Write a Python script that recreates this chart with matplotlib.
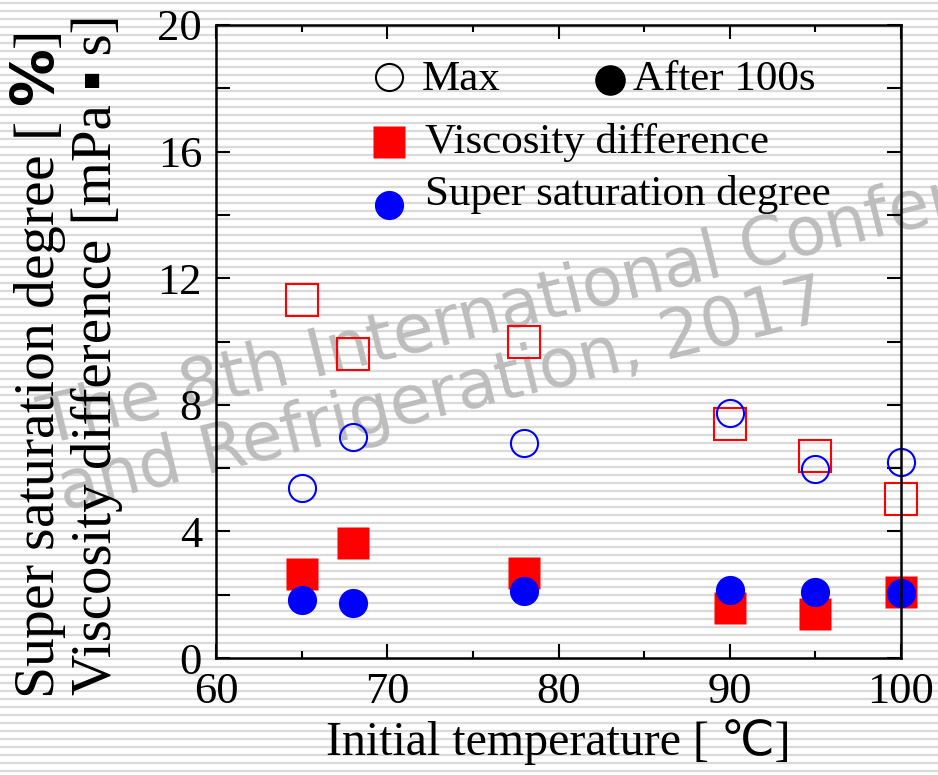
import matplotlib.pyplot as plt
import numpy as np

plt.rcParams['font.family'] = ['Liberation Serif', 'DejaVu Sans']
plt.rcParams['mathtext.fontset'] = 'custom'
plt.rcParams['mathtext.bf'] = 'DejaVu Sans:bold'
plt.rcParams['mathtext.rm'] = 'Liberation Serif'

# initial temperature [C]
temp = [65, 68, 78, 90, 95, 100]

# maximum values
visc_max = [11.3, 9.6, 9.98, 7.39, 6.37, 5.03]
super_max = [5.38, 6.97, 6.78, 7.75, 5.96, 6.2]

# values after 100 s
visc_100s = [2.65, 3.63, 2.7, 1.58, 1.4, 2.08]
super_100s = [1.83, 1.74, 2.12, 2.15, 2.09, 2.06]

W, H = 938, 775
fig = plt.figure(figsize=(W / 100, H / 100), dpi=100)

# striped background over the whole sheet, watermark sits on it
bg = fig.add_axes([0, 0, 1, 1], zorder=-10)
bg.set_xlim(0, W)
bg.set_ylim(H, 0)
for yy in np.arange(3.3, H, 8):
    bg.axhline(yy, color='#dadada', lw=1.6)
bg.axis('off')

wm = dict(fontsize=48, color='#bdbdbd', rotation=14,
          rotation_mode='anchor', ha='left', va='baseline',
          family='DejaVu Sans')
bg.text(45, 445, 'The 8th International Conference', **wm)
bg.text(64, 510, 'and Refrigeration, 2017', **wm)

ax = fig.add_axes([216 / W, 1 - 658 / H, 685 / W, 633 / H])
ax.patch.set_alpha(0)

ms_c = 21
ms_s = 22.5
ax.plot(temp, visc_max, 's', ms=ms_s, mfc='none', mec='red', mew=1.5,
        zorder=3, clip_on=False)
ax.plot(temp, super_max, 'o', ms=ms_c - 1.5, mfc='none', mec='blue', mew=1.5,
        zorder=3, clip_on=False)
ax.plot(temp, visc_100s, 's', ms=ms_s, color='red', mec='none',
        zorder=3, clip_on=False)
ax.plot(temp, super_100s, 'o', ms=ms_c, color='blue', mec='none',
        zorder=4, clip_on=False)

ax.set_xlim(60, 100)
ax.set_ylim(0, 20)
ax.set_xticks([60, 70, 80, 90, 100])
ax.set_xticks([65, 75, 85, 95], minor=True)
ax.set_yticks([0, 4, 8, 12, 16, 20])
ax.set_yticks([2, 6, 10, 14, 18], minor=True)
ax.tick_params(which='both', direction='in', top=True, right=True,
               width=1.5, labelsize=32, pad=10)
ax.tick_params(axis='x', which='major', length=10)
ax.tick_params(axis='x', which='minor', length=5)
ax.tick_params(axis='y', which='both', length=10)
for s in ax.spines.values():
    s.set_linewidth(1.8)
    s.set_zorder(5)

ax.set_xlabel('Initial temperature [ ℃]', fontsize=34.5, labelpad=5)
fig.text(38 / W, 1 - 366 / H, r'Super saturation degree [ $\mathbf{\%}$]',
         rotation=90, fontsize=41.5, ha='center', va='center')
fig.text(97 / W, 1 - 355 / H, 'Viscosity difference [mPa ▪ s]',
         rotation=90, fontsize=41, ha='center', va='center')

# legend drawn by hand
lx, tx = 0.2526, 0.305
ax.plot([lx], [0.918], 'o', ms=ms_c - 1.5, mfc='none', mec='black', mew=1.5,
        transform=ax.transAxes, clip_on=False)
ax.text(0.3007, 0.897, 'Max', fontsize=31, transform=ax.transAxes)
ax.plot([0.575], [0.913], 'o', ms=ms_c, color='black',
        transform=ax.transAxes, clip_on=False)
ax.text(0.609, 0.897, 'After 100s', fontsize=31, transform=ax.transAxes)
ax.plot([lx], [0.815], 's', ms=ms_s, color='red', mec='none',
        transform=ax.transAxes, clip_on=False)
ax.text(tx, 0.798, 'Viscosity difference', fontsize=31, transform=ax.transAxes)
ax.plot([lx], [0.716], 'o', ms=ms_c, color='blue', mec='none',
        transform=ax.transAxes, clip_on=False)
ax.text(tx, 0.716, 'Super saturation degree', fontsize=31, transform=ax.transAxes)

fig.savefig('out.png', dpi=100)
